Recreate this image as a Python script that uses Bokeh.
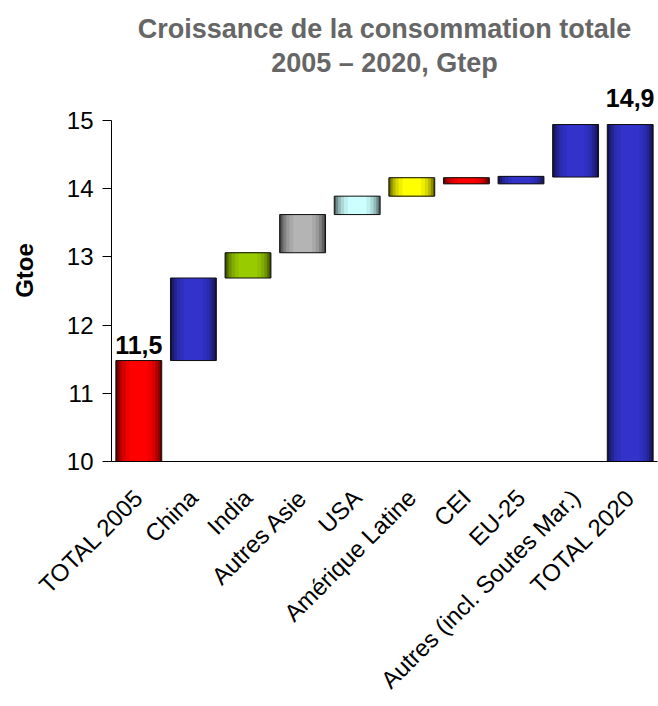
from bokeh.plotting import figure
from bokeh.models import ColumnDataSource, Range1d, FactorRange, LabelSet, Title, FixedTicker
from bokeh.core.properties import value
from bokeh.embed import file_html
from bokeh.resources import INLINE
import math

# ---- data ----
categories = ["TOTAL 2005", "China", "India", "Autres Asie", "USA",
              "Amérique Latine", "CEI", "EU-25", "Autres (incl. Soutes Mar.)", "TOTAL 2020"]
bar_bottom = [10.0, 11.48, 12.69, 13.06, 13.62, 13.89, 14.07, 14.07, 14.17, 10.0]
bar_top = [11.48, 12.69, 13.06, 13.62, 13.89, 14.16, 14.16, 14.18, 14.94, 14.94]
bar_colors = ["#ff0000", "#3333cc", "#99cc00", "#b4b4b4", "#ccffff",
              "#ffff00", "#ff0000", "#3333cc", "#3333cc", "#3333cc"]
label_cats = ["TOTAL 2005", "TOTAL 2020"]
label_vals = [11.48, 14.94]
label_texts = ["11,5", "14,9"]
y_ticks = [10, 11, 12, 13, 14, 15]

FONT = "Liberation Sans"


def shade(hex_color, f):
    h = hex_color.lstrip("#")
    r, g, b = int(h[0:2], 16), int(h[2:4], 16), int(h[4:6], 16)
    return "#%02x%02x%02x" % (int(r * f), int(g * f), int(b * f))


p = figure(width=658, height=706, x_range=FactorRange(*categories, range_padding=0),
           y_range=Range1d(10, 15.6), output_backend="svg", toolbar_location=None,
           min_border_left=111, min_border_right=1, min_border_top=79,
           min_border_bottom=244)

# gradient bars: stacked layers from dark edges to bright centre
layers = [(0.84, 0.35), (0.78, 0.55), (0.70, 0.72), (0.60, 0.85), (0.48, 0.94), (0.34, 1.0)]
for w, f in layers:
    src = ColumnDataSource(dict(x=categories, bottom=bar_bottom, top=bar_top,
                                color=[shade(c, f) for c in bar_colors]))
    p.vbar(x="x", bottom="bottom", top="top", width=w, source=src,
           fill_color="color", line_color=None)

# outline on top
src_o = ColumnDataSource(dict(x=categories, bottom=bar_bottom, top=bar_top))
p.vbar(x="x", bottom="bottom", top="top", width=0.84, source=src_o,
       fill_color=None, line_color="#111111", line_width=1)

label_offsets = [7, 18]
for cat, val, txt, off in zip(label_cats, label_vals, label_texts, label_offsets):
    s = ColumnDataSource(dict(x=[cat], y=[val], t=[txt]))
    p.add_layout(LabelSet(x="x", y="y", text="t", source=s, text_align="center",
                          text_baseline="alphabetic", y_offset=off, text_font=value(FONT),
                          text_font_size="25px", text_font_style="bold", text_color="black"))

# titles
t2 = Title(text="2005 – 2020, Gtep", align="center", text_font=FONT,
           text_font_size="27px", text_font_style="bold", text_color="#666666",
           standoff=4)
t1 = Title(text="Croissance de la consommation totale", align="center", text_font=FONT,
           text_font_size="27px", text_font_style="bold", text_color="#666666",
           standoff=0)
p.add_layout(t2, "above")
p.add_layout(t1, "above")

p.xgrid.visible = False
p.ygrid.visible = False
p.outline_line_color = None

p.yaxis.ticker = FixedTicker(ticks=y_ticks)
p.yaxis.bounds = (10, 15)
p.yaxis.minor_tick_line_color = None
p.yaxis.major_tick_out = 9
p.yaxis.major_tick_in = 0
p.yaxis.axis_line_color = "black"
p.yaxis.major_tick_line_color = "black"
p.yaxis.major_label_text_font = FONT
p.yaxis.major_label_text_font_size = "24px"
p.yaxis.major_label_text_color = "black"
p.yaxis.major_label_standoff = 9
p.yaxis.axis_label = "Gtoe"
p.yaxis.axis_label_text_font = FONT
p.yaxis.axis_label_text_font_size = "24px"
p.yaxis.axis_label_text_font_style = "bold"
p.yaxis.axis_label_text_color = "black"
p.yaxis.axis_label_standoff = 26

p.xaxis.axis_line_color = "black"
p.xaxis.major_tick_line_color = None
p.xaxis.minor_tick_line_color = None
p.xaxis.major_label_orientation = math.pi / 4
p.xaxis.major_label_text_font = FONT
p.xaxis.major_label_text_font_size = "24px"
p.xaxis.major_label_text_color = "black"
p.xaxis.major_label_standoff = 26

open("out.html", "w").write(file_html(p, INLINE))
